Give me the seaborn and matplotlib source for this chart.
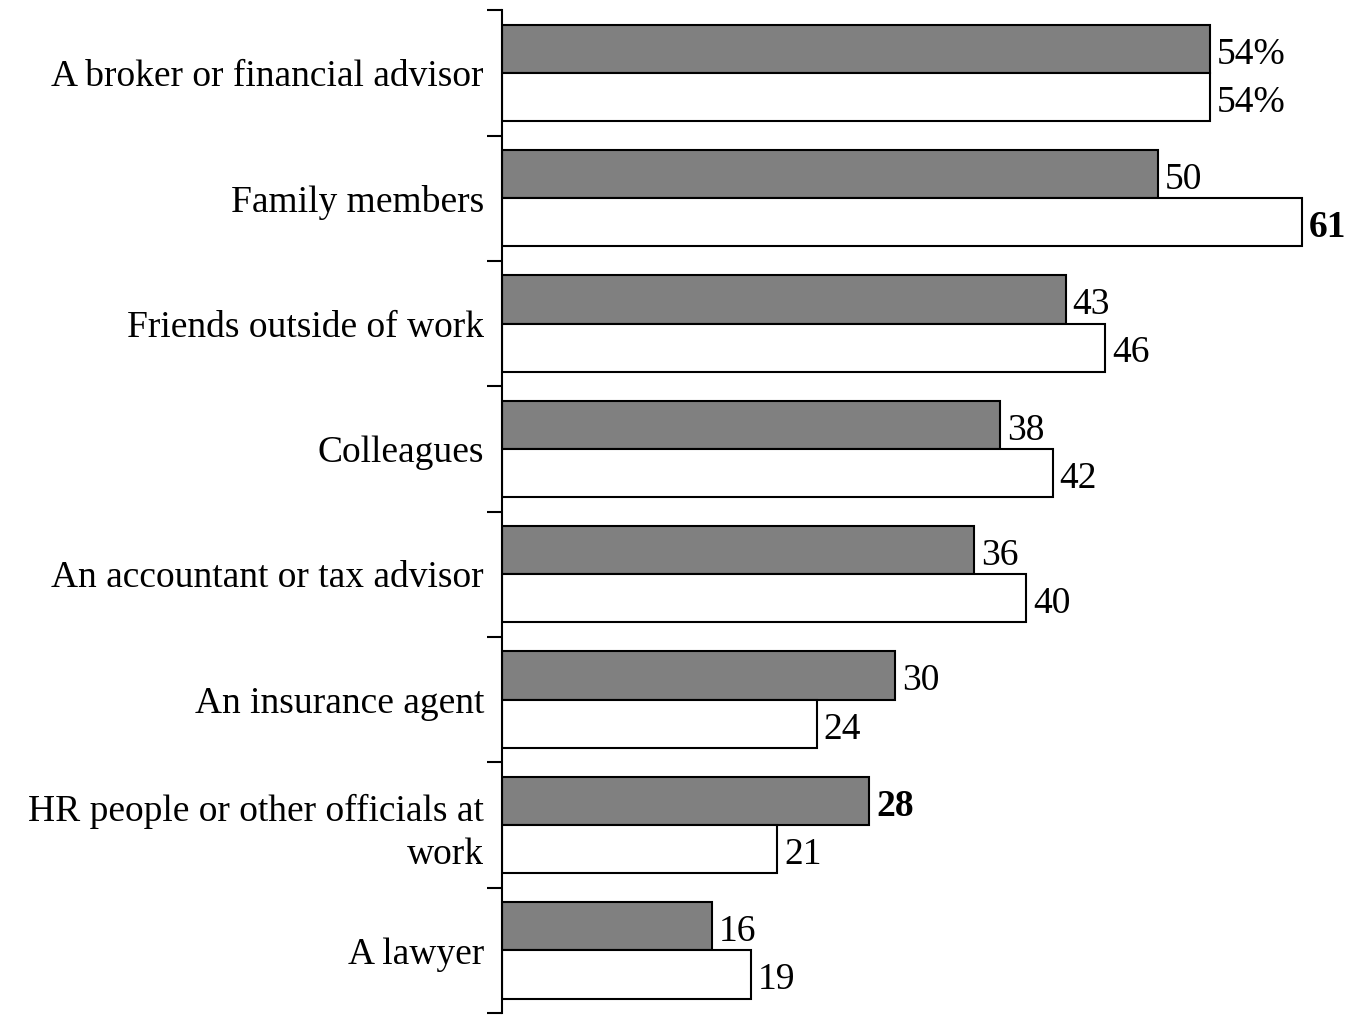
import pandas as pd
import numpy as np
import matplotlib
matplotlib.use('Agg')
import matplotlib.pyplot as plt
from matplotlib.ticker import FixedLocator
import seaborn as sns

# --- data ---
categories = [
    'A broker or financial advisor',
    'Family members',
    'Friends outside of work',
    'Colleagues',
    'An accountant or tax advisor',
    'An insurance agent',
    'HR people or other officials at\nwork',
    'A lawyer',
]
series_names = ['Group 1', 'Group 2']
values_gray = [54, 50, 43, 38, 36, 30, 28, 16]
values_white = [54, 61, 46, 42, 40, 24, 21, 19]
labels_gray = ['54%', '50', '43', '38', '36', '30', '28', '16']
labels_white = ['54%', '61', '46', '42', '40', '24', '21', '19']
bold_gray = [False, False, False, False, False, False, True, False]
bold_white = [False, True, False, False, False, False, False, False]

df = pd.DataFrame({
    'category': categories * 2,
    'series': [series_names[0]] * len(categories) + [series_names[1]] * len(categories),
    'value': values_gray + values_white,
})

sns.set_style('white')
plt.rcParams['font.family'] = ['Liberation Serif', 'DejaVu Serif']
plt.rcParams['text.color'] = 'black'
plt.rcParams['ytick.color'] = 'black'
plt.rcParams['axes.labelcolor'] = 'black'

fig = plt.figure(figsize=(13.53, 10.15), dpi=100)
ax = fig.add_axes([502 / 1353, 0.002, (1345 - 502) / 1353, 0.988])

sns.barplot(data=df, y='category', x='value', hue='series', orient='h',
            palette=['#808080', '#ffffff'], edgecolor='black', linewidth=1.5,
            width=0.77, errorbar=None, saturation=1, ax=ax, legend=False)

ax.set_xlim(0, (1345 - 502) / 13.11)
ax.set_ylim(len(categories) - 0.5, -0.5)

# value labels
all_labels = [labels_gray, labels_white]
all_bold = [bold_gray, bold_white]
for cont, labs, bolds in zip(ax.containers, all_labels, all_bold):
    for bar, lab, b in zip(cont, labs, bolds):
        ax.annotate(lab, (bar.get_width(), bar.get_y() + bar.get_height() / 2),
                    xytext=(5, -4), textcoords='offset points',
                    ha='left', va='center', fontsize=27, color='black',
                    fontweight='bold' if b else 'normal', annotation_clip=False)

# axes styling
for side in ['top', 'right', 'bottom']:
    ax.spines[side].set_visible(False)
ax.spines['left'].set_linewidth(1.5)
ax.spines['left'].set_color('black')
ax.set_xticks([])
ax.set_xlabel('')
ax.set_ylabel('')
ax.tick_params(axis='y', which='major', length=0, pad=13, labelsize=27, labelcolor='black')
ax.yaxis.set_minor_locator(FixedLocator(np.arange(-0.5, len(categories), 1.0)))
ax.tick_params(axis='y', which='minor', length=11, width=1.5, color='black', direction='out', left=True)
for t in ax.get_yticklabels():
    t.set_ha('right')
    t.set_multialignment('right')
    t.set_linespacing(1.3)

fig.savefig('out.png', dpi=100)
